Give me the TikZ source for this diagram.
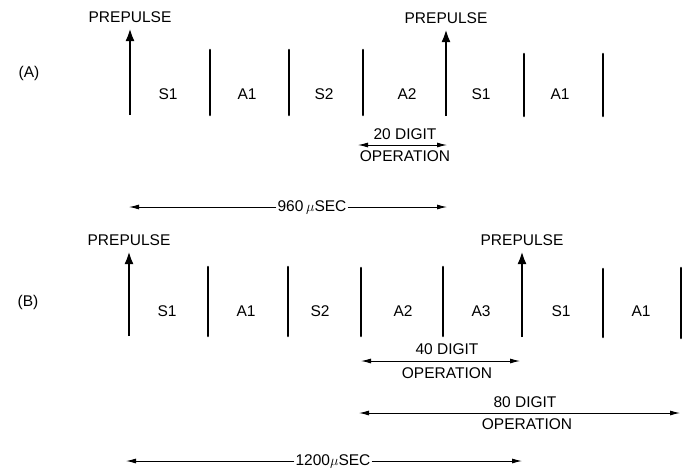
\documentclass[tikz,border=0pt]{standalone}
\usepackage{fontspec}
\setmainfont{Liberation Sans}
\usepackage{tikz}
\usetikzlibrary{arrows.meta, positioning}

\begin{document}
\begin{tikzpicture}[
      x=1pt, y=-1pt,
      font=\fontsize{15.5}{18}\selectfont,
      >=Latex,
      tag/.style={inner sep=1pt},
      pulse/.style={-{Latex[length=13pt,width=9pt]}, line width=2.6pt},
      slot/.style={line width=2.6pt, line cap=round},
      span/.style={{Latex[length=10pt,width=5pt]}-{Latex[length=10pt,width=5pt]}, line width=0.9pt},
      halfspan/.style={-{Latex[length=10pt,width=5pt]}, line width=0.9pt}
    ]
    \useasboundingbox (0,0) rectangle (685,472);

    % Row (A) time marks
    \coordinate (aB1) at (130,115); \coordinate (aT1) at (130,28);
    \coordinate (aB2) at (210,115); \coordinate (aT2) at (210,50);
    \coordinate (aB3) at (289,115); \coordinate (aT3) at (289,50);
    \coordinate (aB4) at (363,115); \coordinate (aT4) at (363,50);
    \coordinate (aB5) at (446,116); \coordinate (aT5) at (446,29);
    \coordinate (aB6) at (524,116); \coordinate (aT6) at (524,54);
    \coordinate (aB7) at (603,116); \coordinate (aT7) at (603,54);

    \draw[pulse] (aB1) -- (aT1);
    \draw[slot] (aB2) -- (aT2);
    \draw[slot] (aB3) -- (aT3);
    \draw[slot] (aB4) -- (aT4);
    \draw[pulse] (aB5) -- (aT5);
    \draw[slot] (aB6) -- (aT6);
    \draw[slot] (aB7) -- (aT7);

    \node[tag, above=4pt of aT1] (aPre1) {PREPULSE};
    \node[tag, above=4pt of aT5] (aPre2) {PREPULSE};
    \node[tag] (aName) at (29,73) {(A)};

    % Row (A) slot names
    \node[tag] (aS1) at (168,94) {S1};
    \node[tag] (aA1) at (247,94) {A1};
    \node[tag] (aS2) at (324,94) {S2};
    \node[tag] (aA2) at (407,94) {A2};
    \node[tag] (aS1b) at (481,94) {S1};
    \node[tag] (aA1b) at (560,94) {A1};

    % Row (A) spans
    \coordinate (d20l) at (358,145);
    \coordinate (d20r) at (447,145);
    \draw[span] (d20l) -- (d20r);
    \node[tag] (d20top) at (405,134) {20 DIGIT};
    \node[tag] (d20bot) at (405,156) {OPERATION};

    \node[tag, fill=white] (t960) at (312,207) {960\,$\mu$SEC};
    \coordinate (s960l) at (129,207);
    \coordinate (s960r) at (447,207);
    \draw[halfspan] (t960) -- (s960l);
    \draw[halfspan] (t960) -- (s960r);

    % Row (B) time marks
    \coordinate (bB1) at (129,336); \coordinate (bT1) at (129,251);
    \coordinate (bB2) at (208,336); \coordinate (bT2) at (208,267);
    \coordinate (bB3) at (288,336); \coordinate (bT3) at (288,267);
    \coordinate (bB4) at (361,336); \coordinate (bT4) at (361,268);
    \coordinate (bB5) at (443,336); \coordinate (bT5) at (443,267);
    \coordinate (bB6) at (522,337); \coordinate (bT6) at (522,251);
    \coordinate (bB7) at (603,337); \coordinate (bT7) at (603,269);
    \coordinate (bB8) at (681,338); \coordinate (bT8) at (681,268);

    \draw[pulse] (bB1) -- (bT1);
    \draw[slot] (bB2) -- (bT2);
    \draw[slot] (bB3) -- (bT3);
    \draw[slot] (bB4) -- (bT4);
    \draw[slot] (bB5) -- (bT5);
    \draw[pulse] (bB6) -- (bT6);
    \draw[slot] (bB7) -- (bT7);
    \draw[slot] (bB8) -- (bT8);

    \node[tag, above=4pt of bT1] (bPre1) {PREPULSE};
    \node[tag, above=4pt of bT6] (bPre2) {PREPULSE};
    \node[tag] (bName) at (28,302) {(B)};

    % Row (B) slot names
    \node[tag] (bS1) at (167,311) {S1};
    \node[tag] (bA1) at (246,311) {A1};
    \node[tag] (bS2) at (320,311) {S2};
    \node[tag] (bA2) at (403,311) {A2};
    \node[tag] (bA3) at (481,311) {A3};
    \node[tag] (bS1b) at (561,311) {S1};
    \node[tag] (bA1b) at (641,311) {A1};

    % Row (B) spans
    \coordinate (d40l) at (361,361);
    \coordinate (d40r) at (520,361);
    \draw[span] (d40l) -- (d40r);
    \node[tag] (d40top) at (447,349) {40 DIGIT};
    \node[tag] (d40bot) at (447,373) {OPERATION};

    \coordinate (d80l) at (359,413);
    \coordinate (d80r) at (680,413);
    \draw[span] (d80l) -- (d80r);
    \node[tag] (d80top) at (525,402) {80 DIGIT};
    \node[tag] (d80bot) at (527,424) {OPERATION};

    \node[tag, fill=white] (t1200) at (333,461) {1200$\mu$SEC};
    \coordinate (s1200l) at (126,461);
    \coordinate (s1200r) at (522,461);
    \draw[halfspan] (t1200) -- (s1200l);
    \draw[halfspan] (t1200) -- (s1200r);

  \end{tikzpicture}
\end{document}
